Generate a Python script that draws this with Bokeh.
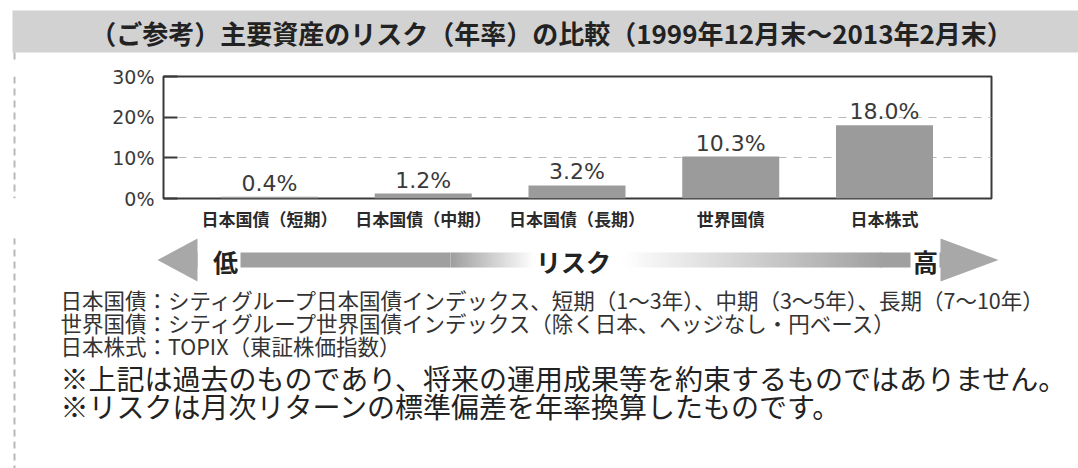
from bokeh.plotting import figure
from bokeh.models import Range1d, FixedTicker, ColumnDataSource
from bokeh.layouts import column, row
from bokeh.core.properties import value
from bokeh.embed import file_html
from bokeh.resources import INLINE

# ---------------- data ----------------
categories = ["日本国債（短期）", "日本国債（中期）", "日本国債（長期）", "世界国債", "日本株式"]
risk = [0.4, 1.2, 3.2, 10.3, 18.0]
value_labels = ["0.4%", "1.2%", "3.2%", "10.3%", "18.0%"]
y_ticks = [0, 10, 20, 30]
y_tick_labels = ["0%", "10%", "20%", "30%"]

title_text = "（ご参考）主要資産のリスク（年率）の比較（1999年12月末～2013年2月末）"
note_lines = [
    "日本国債：シティグループ日本国債インデックス、短期（1～3年）、中期（3～5年）、長期（7～10年）",
    "世界国債：シティグループ世界国債インデックス（除く日本、ヘッジなし・円ベース）",
    "日本株式：TOPIX（東証株価指数）",
]
disclaimers = [
    "※上記は過去のものであり、将来の運用成果等を約束するものではありません。",
    "※リスクは月次リターンの標準偏差を年率換算したものです。",
]
arrow_words = ["低", "リスク", "高"]

FONT = "Noto Sans CJK JP"
NUMFONT = "DejaVu Sans"
W, H = 1078, 468
TOP_H = 60          # title strip height (page y 0..60)
MID_H = 178         # chart strip height (page y 60..238)
BOT_H = H - TOP_H - MID_H
STRIP_W = 30
DASH_X = 14
DASH_COL = "#b8b8b8"
DASH = "7 5"


def deco_fig(w, h):
    f = figure(width=w, height=h, output_backend="svg", toolbar_location=None,
               x_range=Range1d(0, w), y_range=Range1d(h, 0),
               x_axis_location=None, y_axis_location=None,
               min_border=0, border_fill_color="white", background_fill_color="white")
    f.outline_line_color = None
    f.grid.visible = False
    return f


# ---------------- title strip ----------------
top = deco_fig(W, TOP_H)
top.quad(left=[12], right=[W + 2], top=[10], bottom=[52], fill_color="#d2d2d2", line_color=None)
top.text(x=[551], y=[31.5], text=[title_text], text_align="center", text_baseline="middle",
         text_font=value(FONT), text_font_size="26px", text_font_style="bold",
         text_color="#222222")
top.segment(x0=[DASH_X], y0=[52], x1=[DASH_X], y1=[TOP_H + 1], line_color=DASH_COL,
            line_width=2, line_dash=DASH)

# ---------------- chart strip ----------------
strip = deco_fig(STRIP_W, MID_H)
strip.segment(x0=[DASH_X], y0=[0], x1=[DASH_X], y1=[MID_H], line_color=DASH_COL,
              line_width=2, line_dash=DASH)

CW = W - STRIP_W
FL, FR, FT, FB = 163 - STRIP_W, 991 - STRIP_W, 76 - TOP_H, 198 - TOP_H
p = figure(width=CW, height=MID_H, output_backend="svg", toolbar_location=None,
           x_range=Range1d(-0.6894, 4.696), y_range=Range1d(0, 30),
           min_border_left=FL, min_border_right=CW - FR,
           min_border_top=FT, min_border_bottom=MID_H - FB,
           background_fill_color="white", border_fill_color="white")
p.outline_line_color = "#3a3a3a"
p.outline_line_width = 2

idx = list(range(len(categories)))
src = ColumnDataSource(dict(x=idx, top=risk, lab=value_labels))
p.vbar(x="x", top="top", width=0.631, source=src, fill_color="#9b9b9b", line_color=None)
p.text(x="x", y="top", text="lab", source=src, text_align="center",
       text_baseline="bottom", y_offset=-1, text_font=value(NUMFONT),
       text_font_size="22px", text_color="#3a3a3a")

p.xaxis.axis_label = None
p.yaxis.axis_label = None
p.xaxis.ticker = FixedTicker(ticks=idx)
p.xaxis.major_label_overrides = {i: c for i, c in zip(idx, categories)}
p.xaxis.major_tick_line_color = None
p.xaxis.minor_tick_line_color = None
p.xaxis.axis_line_color = None
p.xaxis.major_label_standoff = 1
p.xaxis.major_label_text_font = FONT
p.xaxis.major_label_text_font_size = "17px"
p.xaxis.major_label_text_font_style = "bold"
p.xaxis.major_label_text_color = "#2a2a2a"

p.yaxis.ticker = FixedTicker(ticks=y_ticks)
p.yaxis.major_label_overrides = {t: l for t, l in zip(y_ticks, y_tick_labels)}
p.yaxis.major_tick_in = 14
p.yaxis.major_tick_out = 0
p.yaxis.major_tick_line_width = 2
p.yaxis.major_tick_line_color = "#3a3a3a"
p.yaxis.minor_tick_line_color = None
p.yaxis.axis_line_color = None
p.yaxis.major_label_standoff = 9
p.yaxis.major_label_text_font = NUMFONT
p.yaxis.major_label_text_font_size = "19px"
p.yaxis.major_label_text_color = "#3a3a3a"

p.xgrid.visible = False
p.ygrid.grid_line_dash = "8 7"
p.ygrid.grid_line_color = "#b8b8b8"

# ---------------- bottom strip ----------------
bot = deco_fig(W, BOT_H)
OY = TOP_H + MID_H  # page y of bottom strip's top
bot.segment(x0=[DASH_X], y0=[-1], x1=[DASH_X], y1=[BOT_H], line_color=DASH_COL,
            line_width=2, line_dash=DASH)

GRAY = (160, 160, 160)


def hexcol(t):
    c = [int(round(255 + (g - 255) * t)) for g in GRAY]
    return "#%02x%02x%02x" % tuple(c)


SH_T, SH_B = 252 - OY, 267 - OY
lefts, rights, cols = [], [], []
for a, b in [(196, 450), (880, 945)]:
    lefts.append(a); rights.append(b); cols.append(hexcol(1))
step = 3
xx = 450
while xx < 532:
    lefts.append(xx); rights.append(xx + step + 0.5); cols.append(hexcol(1 - (xx - 450) / 82))
    xx += step
xx = 620
while xx < 880:
    lefts.append(xx); rights.append(xx + step + 0.5); cols.append(hexcol((xx - 620) / 260))
    xx += step
bot.quad(left=lefts, right=rights, top=[SH_T] * len(lefts), bottom=[SH_B] * len(lefts),
         fill_color=cols, line_color=None)
# white boxes behind end words
bot.quad(left=[197, 910], right=[240, 939], top=[SH_T - 1] * 2, bottom=[SH_B + 1] * 2,
         fill_color="white", line_color=None)
HC = 259.5 - OY
bot.patches(xs=[[157, 197, 197], [998, 940, 940]],
            ys=[[HC, HC - 21.5, HC + 21.5], [HC, HC - 21.5, HC + 21.5]],
            fill_color="#a8a8a8", line_color=None)
bot.text(x=[225, 573, 925], y=[260 - OY] * 3, text=arrow_words, text_align="center",
         text_baseline="middle", text_font=value(FONT), text_font_size="25px",
         text_font_style="bold", text_color="#222222")

bot.text(x=[60] * 3, y=[299 - OY, 322 - OY, 345 - OY], text=note_lines, text_align="left",
         text_baseline="middle", text_font=value(FONT), text_font_size="21.5px",
         text_color="#333333")
bot.text(x=[60] * 2, y=[377 - OY, 405 - OY], text=disclaimers, text_align="left",
         text_baseline="middle", text_font=value(FONT), text_font_size="28px",
         text_color="#222222")

layout = column(top, row(strip, p, spacing=0), bot, spacing=0)
open("out.html", "w").write(file_html(layout, INLINE))
